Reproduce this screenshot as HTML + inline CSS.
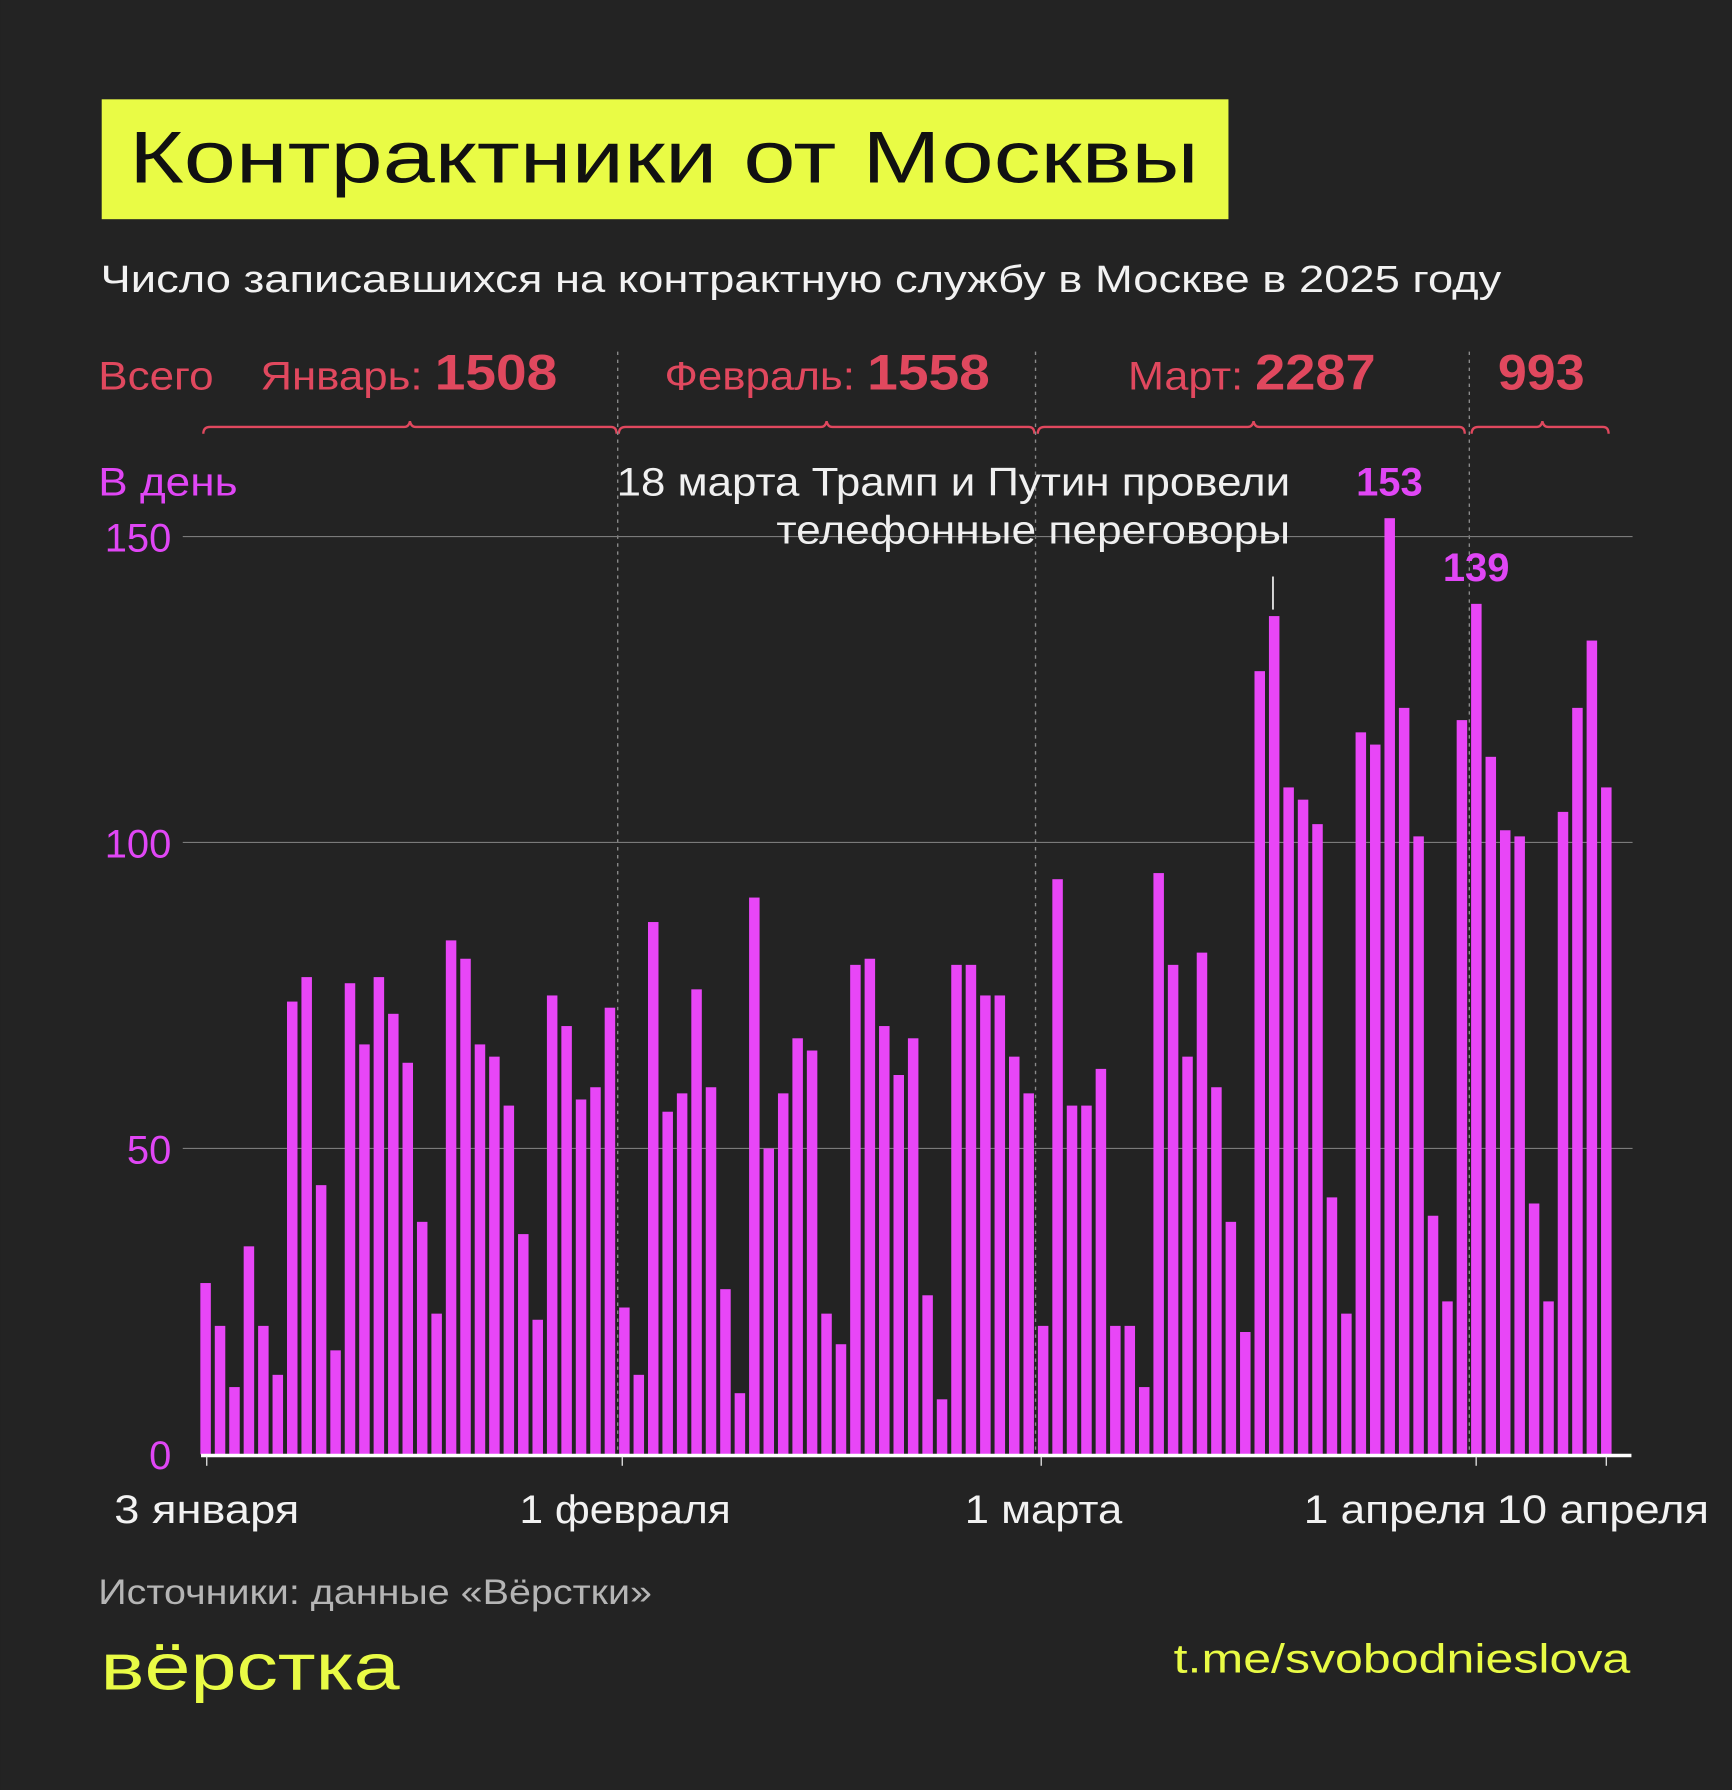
<!DOCTYPE html>
<html><head><meta charset="utf-8"><style>
html,body{margin:0;padding:0;background:#232323;}
svg{display:block}
text{font-family:"Liberation Sans","DejaVu Sans",sans-serif;}
</style></head><body>
<svg id="s" width="1732" height="1790" viewBox="0 0 1517 1568" xmlns="http://www.w3.org/2000/svg">
<rect x="0" y="0" width="1517" height="1568" fill="#232323"/>
<rect x="89" y="87" width="987" height="105" fill="#e9fb45"/>
<text x="113" y="160" font-size="64" fill="#111" textLength="937" lengthAdjust="spacingAndGlyphs">Контрактники от Москвы</text>
<text x="88" y="256" font-size="33" fill="#f2f2f2" textLength="1227" lengthAdjust="spacingAndGlyphs">Число записавшихся на контрактную службу в Москве в 2025 году</text>
<g fill="#e0485e">
<text x="86" y="341" font-size="35" textLength="101" lengthAdjust="spacingAndGlyphs">Всего</text>
<text x="228" y="341" font-size="35" textLength="260" lengthAdjust="spacingAndGlyphs">Январь: <tspan font-weight="bold" font-size="44">1508</tspan></text>
<text x="582" y="341" font-size="35" textLength="285" lengthAdjust="spacingAndGlyphs">Февраль: <tspan font-weight="bold" font-size="44">1558</tspan></text>
<text x="988" y="341" font-size="35" textLength="217" lengthAdjust="spacingAndGlyphs">Март: <tspan font-weight="bold" font-size="44">2287</tspan></text>
<text x="1312" y="341" font-size="44" font-weight="bold" textLength="76" lengthAdjust="spacingAndGlyphs">993</text>
</g>
<g fill="none" stroke="#e0485e" stroke-width="2">
<path d="M178 380 Q178 374 184 374 L354 374 Q358 374 359 369 Q360 374 364 374 L535 374 Q540 374 540 380"/>
<path d="M542 380 Q542 374 548 374 L719 374 Q723 374 724 369 Q725 374 729 374 L901 374 Q906 374 906 380"/>
<path d="M909 380 Q909 374 915 374 L1093 374 Q1097 374 1098 369 Q1099 374 1103 374 L1278 374 Q1283 374 1283 380"/>
<path d="M1289 380 Q1289 374 1295 374 L1346 374 Q1350 374 1351 369 Q1352 374 1356 374 L1404 374 Q1409 374 1409 380"/>
</g>
<g stroke="#8a8a8a" stroke-width="1.2" stroke-dasharray="3 4">
<line x1="541" y1="308" x2="541" y2="1274"/>
<line x1="907" y1="308" x2="907" y2="1274"/>
<line x1="1287" y1="308" x2="1287" y2="1274"/>
</g>
<text x="86" y="434" font-size="35" fill="#e046f5" textLength="122" lengthAdjust="spacingAndGlyphs">В день</text>
<g stroke="#7a7a7a" stroke-width="1">
<line x1="160" y1="470" x2="1430" y2="470"/>
<line x1="160" y1="738" x2="1430" y2="738"/>
<line x1="160" y1="1006" x2="1430" y2="1006"/>
</g>
<g fill="#e046f5" font-size="35" text-anchor="end">
<text x="150" y="483">150</text>
<text x="150" y="751">100</text>
<text x="150" y="1019">50</text>
<text x="150" y="1287">0</text>
</g>
<g id="bars" fill="#e846f7"></g>
<line x1="176" y1="1275" x2="1429" y2="1275" stroke="#fff" stroke-width="3"/>
<g stroke="#ddd" stroke-width="1.2">
<line x1="181" y1="1276" x2="181" y2="1284"/>
<line x1="545" y1="1276" x2="545" y2="1284"/>
<line x1="912" y1="1276" x2="912" y2="1284"/>
<line x1="1293" y1="1276" x2="1293" y2="1284"/>
<line x1="1407" y1="1276" x2="1407" y2="1284"/>
</g>
<g fill="#f2f2f2" font-size="35">
<text x="100" y="1334" textLength="162" lengthAdjust="spacingAndGlyphs">3 января</text>
<text x="455" y="1334" textLength="185" lengthAdjust="spacingAndGlyphs">1 февраля</text>
<text x="845" y="1334" textLength="138" lengthAdjust="spacingAndGlyphs">1 марта</text>
<text x="1142" y="1334" textLength="160" lengthAdjust="spacingAndGlyphs">1 апреля</text>
<text x="1311" y="1334" textLength="186" lengthAdjust="spacingAndGlyphs">10 апреля</text>
</g>
<g fill="#f0f0f0" font-size="35">
<text x="540" y="434" textLength="590" lengthAdjust="spacingAndGlyphs">18 марта Трамп и Путин провели</text>
<text x="680" y="476" textLength="450" lengthAdjust="spacingAndGlyphs">телефонные переговоры</text>
</g>
<line x1="1115" y1="505" x2="1115" y2="534" stroke="#eee" stroke-width="1.5"/>
<g fill="#e046f5" font-size="35" font-weight="bold" text-anchor="middle">
<text x="1217" y="434">153</text>
<text x="1293" y="509">139</text>
</g>
<text x="86" y="1405" font-size="31" fill="#b5b5b5" textLength="485" lengthAdjust="spacingAndGlyphs">Источники: данные «Вёрстки»</text>
<text x="88" y="1480" font-size="58" fill="#e9fb45" textLength="262" lengthAdjust="spacingAndGlyphs">вёрстка</text>
<text x="1028" y="1465" font-size="36" fill="#e9fb45" textLength="400" lengthAdjust="spacingAndGlyphs">t.me/svobodnieslova</text>
</svg>
<script>
var v=[28,21,11,34,21,13,74,78,44,17,77,67,78,72,64,38,23,84,81,67,65,57,36,22,75,70,58,60,73,
24,13,87,56,59,76,60,27,10,91,50,59,68,66,23,18,80,81,70,62,68,26,9,80,80,75,75,65,59,
21,94,57,57,63,21,21,11,95,80,65,82,60,38,20,128,137,109,107,103,42,23,118,116,153,122,101,39,25,
120,139,114,102,101,41,25,105,122,133,109];
var g=document.getElementById('bars'),ns='http://www.w3.org/2000/svg';
var step=(1407-180)/(v.length-1);
for(var i=0;i<v.length;i++){var r=document.createElementNS(ns,'rect');
var x=180+i*step-4.6;r.setAttribute('x',x.toFixed(2));r.setAttribute('width','9.2');
var h=v[i]*5.36;r.setAttribute('y',(1274-h).toFixed(2));r.setAttribute('height',h.toFixed(2));g.appendChild(r);}
</script>
</body></html>
